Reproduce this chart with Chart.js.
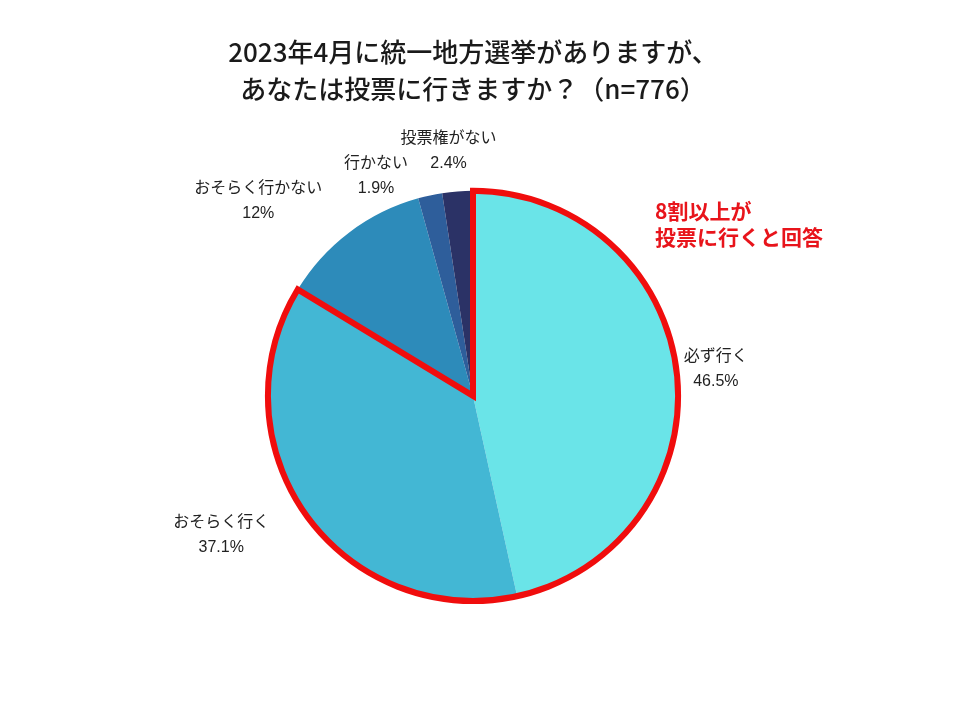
<!DOCTYPE html>
<html>
<head>
<meta charset="utf-8">
<script src="https://cdn.jsdelivr.net/npm/chart.js@4/dist/chart.umd.min.js"></script>
<style>
    html, body { margin: 0; padding: 0; background: #fff; }
    #wrap { width: 960px; height: 720px; }
</style>
</head>
<body>
<div id="wrap"><canvas id="chart" width="960" height="720"></canvas></div>
<script>
const categories = ["必ず行く", "おそらく行く", "おそらく行かない", "行かない", "投票権がない"]
const values = [46.5, 37.1, 12, 1.9, 2.4]
const valueLabels = ["46.5%", "37.1%", "12%", "1.9%", "2.4%"]
const colors = ["#6ae4e8", "#43b7d4", "#2d8bba", "#2e5e9b", "#2b3266"]
const titleLines = ["2023年4月に統一地方選挙がありますが、", "あなたは投票に行きますか？（n=776）"]
const noteLines = ["8割以上が", "投票に行くと回答"]

// label offset from the slice's outer edge (mid angle)
const labelOffsets = [[39, -5], [-85, 20], [-91, -31], [-54, -19], [-9, -40]]

const sliceLabels = {
    id: "sliceLabels",
    afterDatasetsDraw(chart) {
        const ctx = chart.ctx
        const meta = chart.getDatasetMeta(0)
        ctx.save()
        ctx.font = '16px "Liberation Sans", "Noto Sans CJK JP", sans-serif'
        ctx.fillStyle = "#222"
        ctx.textAlign = "center"
        ctx.textBaseline = "middle"
        meta.data.forEach((arc, i) => {
            const mid = (arc.startAngle + arc.endAngle) / 2
            const px = arc.x + Math.cos(mid) * arc.outerRadius + labelOffsets[i][0]
            const py = arc.y + Math.sin(mid) * arc.outerRadius + labelOffsets[i][1]
            ctx.fillText(categories[i], px, py - 12.5)
            ctx.fillText(valueLabels[i], px, py + 12.5)
        })
        ctx.restore()
    },
}

const goOutline = {
    id: "goOutline",
    afterDatasetsDraw(chart) {
        const ctx = chart.ctx
        const meta = chart.getDatasetMeta(0)
        const a = meta.data[0]
        const b = meta.data[1]
        ctx.save()
        ctx.beginPath()
        ctx.moveTo(a.x, a.y)
        ctx.arc(a.x, a.y, a.outerRadius, a.startAngle, b.endAngle)
        ctx.closePath()
        ctx.lineWidth = 6
        ctx.lineJoin = "miter"
        ctx.strokeStyle = "#f00d0d"
        ctx.stroke()

        // note next to the pie
        ctx.font = 'bold 21px "Noto Sans CJK JP", sans-serif'
        ctx.fillStyle = "#e8141b"
        ctx.textAlign = "left"
        ctx.textBaseline = "middle"
        noteLines.forEach((line, i) => {
            ctx.fillText(line, a.x + 182, a.y - 185 + i * 26)
        })
        ctx.restore()
    },
}

new Chart(document.getElementById("chart").getContext("2d"), {
    type: "pie",
    plugins: [goOutline, sliceLabels],
    data: {
        labels: categories,
        datasets: [
            {
                data: values,
                backgroundColor: colors,
                borderWidth: 0,
            },
        ],
    },
    options: {
        responsive: false,
        animation: false,
        layout: {
            padding: { left: 100, right: 114, top: 0, bottom: 119 },
        },
        plugins: {
            legend: { display: false },
            tooltip: { enabled: false },
            title: {
                display: true,
                text: titleLines,
                color: "#1a1a1a",
                font: {
                    family: '"Noto Sans CJK JP", sans-serif',
                    size: 26,
                    weight: 500,
                    lineHeight: 1.42,
                },
                padding: { top: 34, bottom: 83 },
            },
        },
    },
})
</script>
</body>
</html>
